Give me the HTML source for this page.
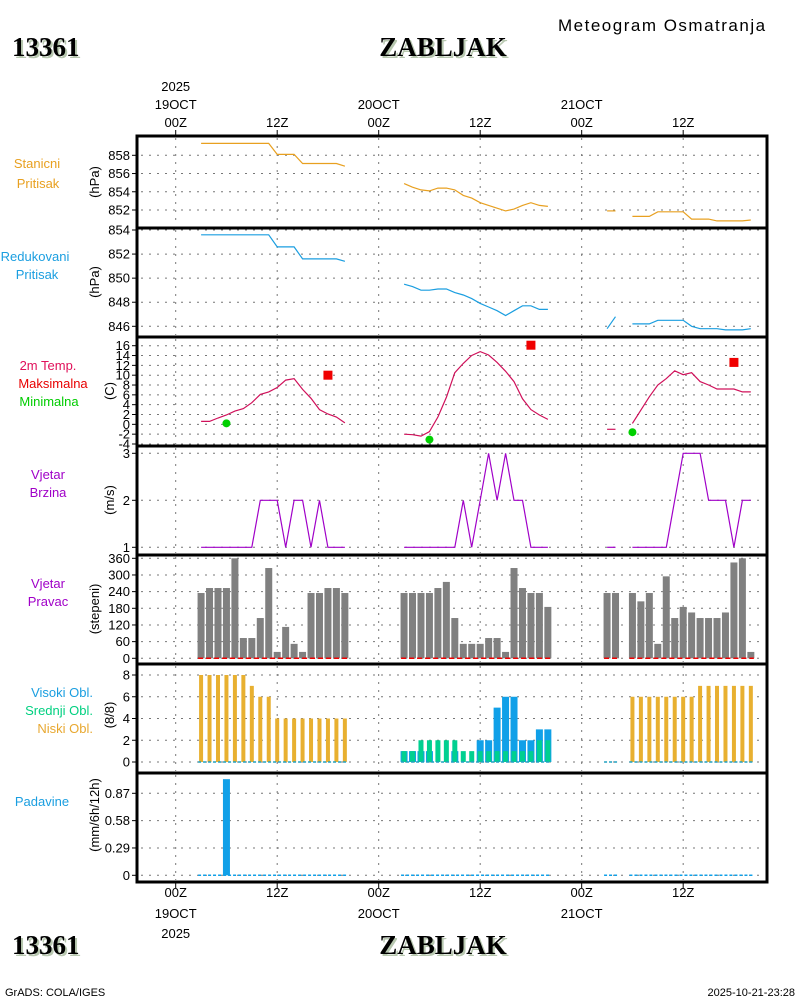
<!DOCTYPE html>
<html><head><meta charset="utf-8"><style>
body{margin:0;background:#fff;}
svg{display:block;font-family:"Liberation Sans",sans-serif;}
.t{font-size:13px;}
.tt{font-family:"Liberation Serif",serif;font-weight:bold;font-size:27px;}
</style></head><body>
<svg id="c" width="800" height="1000" viewBox="0 0 800 1000"></svg>
<script>
// ---------- data ----------
const hoursD1 = [3,4,5,6,7,8,9,10,11,12,13,14,15,16,17,18,19,20];
const hoursD2 = [27,28,29,30,31,32,33,34,35,36,37,38,39,40,41,42,43,44];
const hoursD3 = [51,52,54,55,56,57,58,59,60,61,62,63,64,65,66,67,68];
const stnPresD1 = [859.3,859.3,859.3,859.3,859.3,859.3,859.3,859.3,859.3,858.1,858.1,858.1,857.1,857.1,857.1,857.1,857.1,856.8];
const stnPresD2 = [854.9,854.5,854.2,854.1,854.4,854.4,854.2,853.6,853.3,852.8,852.5,852.2,851.9,852.1,852.5,852.8,852.5,852.4];
const stnPresD3 = [851.9,851.9,851.3,851.3,851.3,851.8,851.8,851.8,851.8,851.0,851.0,851.0,850.8,850.8,850.8,850.8,850.9];
const redPresD1 = [853.6,853.6,853.6,853.6,853.6,853.6,853.6,853.6,853.6,852.6,852.6,852.6,851.6,851.6,851.6,851.6,851.6,851.4];
const redPresD2 = [849.5,849.3,849.0,849.0,849.1,849.1,848.8,848.6,848.3,847.9,847.6,847.3,846.9,847.3,847.7,847.7,847.4,847.4];
const redPresD3 = [845.8,846.8,846.2,846.2,846.2,846.5,846.5,846.5,846.5,846.0,845.8,845.8,845.8,845.7,845.7,845.7,845.8];
const tempD1 = [0.6,0.6,1.3,1.9,2.7,3.2,4.4,6.1,6.6,7.5,9.0,9.3,7.1,5.3,3.0,2.1,1.5,0.3];
const tempD2 = [-2.0,-2.1,-2.4,-1.5,1.5,5.5,10.5,12.4,14.0,14.8,14.1,12.6,10.8,8.7,5.2,3.0,1.9,1.0];
const tempD3 = [-1.0,-1.0,0.2,2.9,5.6,8.0,9.3,10.9,10.1,10.5,8.7,8.0,7.2,7.2,7.2,6.6,6.6];
const maxHours = [18,42,66];
const maxTemps = [10.0,16.1,12.6];
const minHours = [6,30,54];
const minTemps = [0.2,-3.1,-1.6];
const windD1 = [1,1,1,1,1,1,1,2,2,2,1,2,2,1,2,1,1,1];
const windD2 = [1,1,1,1,1,1,1,2,1,2,3,2,3,2,2,1,1,1];
const windD3 = [1,1,1,1,1,1,1,2,3,3,3,2,2,2,1,2,2];
const dirD1 = [235,253,253,253,360,73,73,145,325,23,113,52,23,235,235,253,253,235];
const dirD2 = [235,235,235,235,253,275,145,52,52,52,73,73,23,325,253,235,235,185];
const dirD3 = [235,235,235,205,235,52,295,145,185,165,145,145,145,165,345,360,23];
const lowD1 = [8,8,8,8,8,8,7,6,6,4,4,4,4,4,4,4,4,4];
const lowD2 = [0,0,0,0,0,0,0,0,0,0,0,0,0,0,0,0,0,0];
const lowD3 = [0,0,6,6,6,6,6,6,6,6,7,7,7,7,7,7,7];
const midD1 = [0,0,0,0,0,0,0,0,0,0,0,0,0,0,0,0,0,0];
const midD2 = [1,1,2,2,2,2,2,1,1,1,1,1,1,1,1,1,2,2];
const midD3 = [0,0,0,0,0,0,0,0,0,0,0,0,0,0,0,0,0];
const highD1 = [0,0,0,0,0,0,0,0,0,0,0,0,0,0,0,0,0,0];
const highD2 = [1,1,1,1,0,0,1,0,0,2,2,5,6,6,2,2,3,3];
const highD3 = [0,0,0,0,0,0,0,0,0,0,0,0,0,0,0,0,0];
const precipD1 = [0,0,0,1.02,0,0,0,0,0,0,0,0,0,0,0,0,0,0];
const precipD2 = [0,0,0,0,0,0,0,0,0,0,0,0,0,0,0,0,0,0];
const precipD3 = [0,0,0,0,0,0,0,0,0,0,0,0,0,0,0,0,0];
const stnTicks = [852,854,856,858];
const redTicks = [846,848,850,852,854];
const tempTicks = [-4,-2,0,2,4,6,8,10,12,14,16];
const windTicks = [1,2,3];
const dirTicks = [0,60,120,180,240,300,360];
const cloudTicks = [0,2,4,6,8];
const precipTicks = [0,0.29,0.58,0.87];
const timeTicks = [0,12,24,36,48,60];

// ---------- helpers ----------
const NS="http://www.w3.org/2000/svg";
const svg=document.getElementById('c');
function mk(tag,attrs,parent){const e=document.createElementNS(NS,tag);for(const k in attrs)e.setAttribute(k,attrs[k]);(parent||svg).appendChild(e);return e;}
function txt(x,y,s,attrs){const e=mk('text',Object.assign({x:x,y:y},attrs||{}));e.textContent=s;return e;}
const X0=137,X1=767;
const xs=t=>175.7+t*8.458;
function lin(v0,y0,v1,y1){return v=>y0+(v-v0)*(y1-y0)/(v1-v0);}
const panels=[
 {top:136,bot:228,y:lin(858,155.3,852,210),ticks:stnTicks},
 {top:228,bot:337,y:lin(854,230,846,326.3),ticks:redTicks},
 {top:337,bot:446,y:lin(16,345.7,-4,444),ticks:tempTicks},
 {top:446,bot:555,y:lin(3,453.3,1,547.3),ticks:windTicks},
 {top:555,bot:664,y:lin(360,558.3,0,658.3),ticks:dirTicks},
 {top:664,bot:773,y:lin(8,675,0,762),ticks:cloudTicks},
 {top:773,bot:882,y:lin(0.87,793.3,0,875.3),ticks:precipTicks}
];
const pnames=['station-pressure','reduced-pressure','temperature','wind-speed','wind-direction','cloud-cover','precipitation'];
const days=[hoursD1,hoursD2,hoursD3];

// header
let e;
e=txt(558,31,'Meteogram Osmatranja',{'font-size':'17px',fill:'#000','letter-spacing':'1.5'});

function shadowText(x,y,s,anchor,name){
 const g=mk('g',{});
 const a=mk('text',{x:x+2,y:y+2,class:'tt',fill:'#b8c8b0','text-anchor':anchor},g);a.textContent=s;
 const b=mk('text',{x:x,y:y,class:'tt',fill:'#000','text-anchor':anchor},g);b.textContent=s;
}
shadowText(12,56,'13361','start','station-id');
shadowText(443,56,'ZABLJAK','middle','station-name');
shadowText(12,954,'13361','start','station-id-bottom');
shadowText(443,954,'ZABLJAK','middle','station-name-bottom');
e=txt(5,996,'GrADS: COLA/IGES',{'font-size':'11px'});
e=txt(795,996,'2025-10-21-23:28',{'font-size':'11px','text-anchor':'end'});

// time axis labels
const topLab=[['2025','19OCT','00Z'],[null,null,'12Z'],[null,'20OCT','00Z'],[null,null,'12Z'],[null,'21OCT','00Z'],[null,null,'12Z']];
timeTicks.forEach((t,i)=>{
 const x=xs(t);
 const L=topLab[i];
 [[L[0],91],[L[1],109],[L[2],127]].forEach(p=>{if(p[0]){const q=txt(x,p[1],p[0],{class:'t','text-anchor':'middle'});}});
 mk('line',{x1:x,x2:x,y1:130,y2:136,stroke:'#000','stroke-width':1});
 mk('line',{x1:x,x2:x,y1:882,y2:888,stroke:'#000','stroke-width':1});
 const bl=[L[2], i%2==0?L[1]:null, i==0?'2025':null];
 [[bl[0],897],[bl[1],918],[bl[2],938]].forEach(p=>{if(p[0]){const q=txt(x,p[1],p[0],{class:'t','text-anchor':'middle'});}});
});

// panels grids & ticks
panels.forEach((p,pi)=>{
 const g=mk('g',{});
 timeTicks.forEach(t=>mk('line',{x1:xs(t),x2:xs(t),y1:p.top+2,y2:p.bot-2,stroke:'#777','stroke-width':1,'stroke-dasharray':'2,6'},g));
 p.ticks.forEach(v=>{
  const y=p.y(v);
  mk('line',{x1:X0+4,x2:X1-2,y1:y,y2:y,stroke:'#777','stroke-width':1,'stroke-dasharray':'2,6'},g);
  mk('line',{x1:X0-5,x2:X0,y1:y,y2:y,stroke:'#000','stroke-width':1},g);
  const l=mk('text',{x:X0-7,y:y+4.5,'text-anchor':'end',class:'t','font-size':pi==2?'12px':'13px'},g);l.textContent=v;
  
 });
});

// left labels
const labels=[
 ['Stanicni',37,168,'#e8a020'],['Pritisak',38,188,'#e8a020'],
 ['Redukovani',35,261,'#1a9ee0'],['Pritisak',37,279,'#1a9ee0'],
 ['2m Temp.',48,370,'#e0105a'],['Maksimalna',53,388,'#e80000'],['Minimalna',49,406,'#00cc00'],
 ['Vjetar',48,479,'#a000c8'],['Brzina',48,497,'#a000c8'],
 ['Vjetar',48,588,'#a000c8'],['Pravac',48,606,'#a000c8'],
 ['Visoki Obl.',93,697,'#1a9ee0','end'],['Srednji Obl.',93,715,'#00d080','end'],['Niski Obl.',93,733,'#e8a830','end'],
 ['Padavine',42,806,'#1a9ee0']
];
labels.forEach(l=>{const q=txt(l[1],l[2],l[0],{class:'t',fill:l[3],'text-anchor':l[4]||'middle'});});
const units=[['(hPa)',99,182],['(hPa)',99,282],['(C)',114,391],['(m/s)',114,500],['(stepeni)',99,609],['(8/8)',114,715],['(mm/6h/12h)',99,815]];
units.forEach(u=>{const q=txt(u[1],u[2],u[0],{class:'t','text-anchor':'middle',transform:'rotate(-90 '+u[1]+' '+u[2]+')'});});

// line series (break at gaps in hours)
function line(p,hrs,vals,color,name){
 let segs=[[]];
 hrs.forEach((t,i)=>{
  if(i>0 && t-hrs[i-1]>1.5) segs.push([]);
  segs[segs.length-1].push(xs(t).toFixed(1)+','+p.y(vals[i]).toFixed(1));
 });
 segs.forEach(s=>{
  const l=mk('polyline',{points:s.join(' '),fill:'none',stroke:color,'stroke-width':1.2});
  
 });
}
[stnPresD1,stnPresD2,stnPresD3].forEach((v,i)=>line(panels[0],days[i],v,'#e8a020','station-pressure-line'));
[redPresD1,redPresD2,redPresD3].forEach((v,i)=>line(panels[1],days[i],v,'#1a9ee0','reduced-pressure-line'));
[tempD1,tempD2,tempD3].forEach((v,i)=>line(panels[2],days[i],v,'#d0105a','temperature-line'));
[windD1,windD2,windD3].forEach((v,i)=>line(panels[3],days[i],v,'#a000c8','wind-speed-line'));
maxHours.forEach((t,i)=>{const r=mk('rect',{x:xs(t)-4.5,y:panels[2].y(maxTemps[i])-4.5,width:9,height:9,fill:'#f00000'});});
minHours.forEach((t,i)=>{const r=mk('circle',{cx:xs(t),cy:panels[2].y(minTemps[i]),r:4,fill:'#00d000'});});

// bars
function bars(p,hrs,vals,color,w,name){
 const y0=p.y(0);
 hrs.forEach((t,i)=>{
  const y=p.y(vals[i]);
  if(vals[i]<=0)return;
  const r=mk('rect',{x:xs(t)-w/2,y:y,width:w,height:y0-y,fill:color});
  
 });
}
function baseline(p,hrs,color,name,dash){
 const y=p.y(0);
 let start=hrs[0];
 hrs.forEach((t,i)=>{
  const last=i==hrs.length-1 || hrs[i+1]-t>1.5;
  if(last){
   const l=mk('line',{x1:xs(start)-3,x2:xs(t)+3,y1:y,y2:y,stroke:color,'stroke-width':1.5,'stroke-dasharray':dash||'none'});
   
   if(i<hrs.length-1) start=hrs[i+1];
  }
 });
}
[dirD1,dirD2,dirD3].forEach((v,i)=>bars(panels[4],days[i],v,'#808080',7,'wind-direction-bar'));
days.forEach(h=>baseline(panels[4],h,'#f00000','wind-direction-zero-line','5,3'));
[highD1,highD2,highD3].forEach((v,i)=>bars(panels[5],days[i],v,'#10a0e8',7,'high-cloud-bar'));
[midD1,midD2,midD3].forEach((v,i)=>bars(panels[5],days[i],v,'#00d090',5,'mid-cloud-bar'));
[lowD1,lowD2,lowD3].forEach((v,i)=>bars(panels[5],days[i],v,'#e8b030',4,'low-cloud-bar'));
days.forEach(h=>baseline(panels[5],h,'#20a0c0','cloud-zero-line','3,2'));
[precipD1,precipD2,precipD3].forEach((v,i)=>bars(panels[6],days[i],v,'#10a0e8',7,'precip-bar'));
days.forEach(h=>baseline(panels[6],h,'#10a0e8','precip-zero-line','3,2'));

// frames
panels.forEach((p,pi)=>{
 const r=mk('rect',{x:X0,y:p.top,width:X1-X0,height:p.bot-p.top,fill:'none',stroke:'#000','stroke-width':3});
 
});
</script>
</body></html>
